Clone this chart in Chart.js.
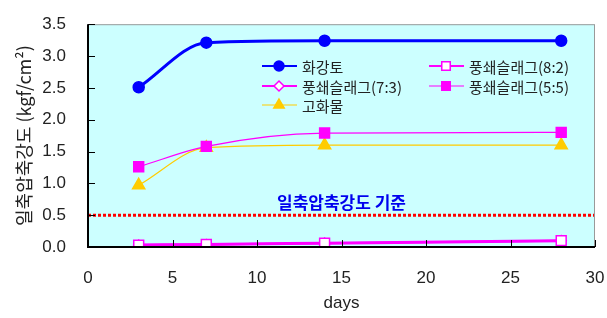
<!DOCTYPE html>
<html>
<head>
<meta charset="utf-8">
<script src="https://cdn.jsdelivr.net/npm/chart.js@4"></script>
<style>
  html, body { margin: 0; padding: 0; background: #fff; }
  #wrap { width: 607px; height: 318px; position: relative; }
</style>
</head>
<body>
<div id="wrap"><canvas id="chart"></canvas></div>
<script>
// Data
const days = [3, 7, 14, 28];
const granite = [2.51, 3.21, 3.24, 3.24];      // 화강토
const slag82 = [0.03, 0.04, 0.06, 0.10];       // 풍쇄슬래그(8:2)
const slag73 = [0.03, 0.04, 0.06, 0.10];       // 풍쇄슬래그(7:3)
const slag55 = [1.26, 1.58, 1.79, 1.80];       // 풍쇄슬래그(5:5)
const hardener = [0.97, 1.56, 1.60, 1.60];     // 고화물
const standardLine = [0.5, 0.5];               // 일축압축강도 기준
const standardX = [0, 30];
const xTicks = [0, 5, 10, 15, 20, 25, 30];
const yTicks = [0, 0.5, 1.0, 1.5, 2.0, 2.5, 3.0, 3.5];

const KR = '"Noto Sans CJK KR", "Noto Sans", sans-serif';
const NUM = 'Arial, "Liberation Sans", sans-serif';

function pts(ys, xs) {
    xs = xs || days;
    return ys.map((y, i) => ({ x: xs[i], y: y }));
}

const series = [
    { label: '화강토', data: granite, color: '#0000ff', width: 3, style: 'circle', radius: 5.5, legendR: 5, fill: '#0000ff', col: 0, row: 0 },
    { label: '풍쇄슬래그(8:2)', data: slag82, color: '#ff00ff', width: 3, style: 'rect', radius: 7, legendR: 6, fill: '#ffffff', col: 1, row: 0 },
    { label: '풍쇄슬래그(7:3)', data: slag73, color: '#ff00ff', width: 2, style: 'rectRot', radius: 5, legendR: 5, fill: '#ffffff', col: 0, row: 1 },
    { label: '풍쇄슬래그(5:5)', data: slag55, color: '#ff00ff', width: 1.2, style: 'rect', radius: 7, legendR: 6, fill: '#ff00ff', col: 1, row: 1 },
    { label: '고화물', data: hardener, color: '#ffcc00', width: 1.2, style: 'triangle', radius: 7, legendR: 6, fill: '#ffcc00', col: 0, row: 2 }
];

const datasets = series.map(s => ({
    label: s.label,
    data: pts(s.data),
    borderColor: s.color,
    borderWidth: s.width,
    backgroundColor: s.fill,
    pointStyle: s.style,
    pointRadius: s.radius,
    pointBorderColor: s.color,
    pointBackgroundColor: s.fill,
    pointBorderWidth: 1.5,
    cubicInterpolationMode: 'monotone'
}));

datasets.unshift({
    label: '기준',
    data: pts(standardLine, standardX),
    borderColor: '#ff0000',
    borderWidth: 3,
    borderDash: [3, 2],
    borderCapStyle: 'butt',
    pointRadius: 0,
    tension: 0
});

// background, frame, inward ticks, legend and the standard label
const decorPlugin = {
    id: 'decor',
    beforeDraw(chart) {
        const { ctx, chartArea: a } = chart;
        ctx.save();
        ctx.fillStyle = '#ccffff';
        ctx.fillRect(a.left, a.top, a.right - a.left, a.bottom - a.top);
        ctx.restore();
    },
    afterDatasetsDraw(chart) {
        const { ctx, chartArea: a, scales } = chart;
        ctx.save();
        // frame
        ctx.strokeStyle = '#999999';
        ctx.lineWidth = 1;
        ctx.strokeRect(a.left + 0.5, a.top + 0.5, a.right - a.left - 1, a.bottom - a.top);
        ctx.strokeStyle = '#000000';
        ctx.lineWidth = 2;
        ctx.beginPath();
        ctx.moveTo(a.left, a.top);
        ctx.lineTo(a.left, a.bottom);
        ctx.lineTo(a.right, a.bottom);
        ctx.stroke();
        // inward ticks
        ctx.lineWidth = 1;
        yTicks.forEach(v => {
            const y = Math.round(scales.y.getPixelForValue(v)) + 0.5;
            ctx.beginPath();
            ctx.moveTo(a.left, y);
            ctx.lineTo(a.left + 7, y);
            ctx.stroke();
        });
        xTicks.forEach(v => {
            const x = Math.round(scales.x.getPixelForValue(v)) + 0.5;
            ctx.beginPath();
            ctx.moveTo(x, a.bottom);
            ctx.lineTo(x, a.bottom - 7);
            ctx.stroke();
        });

        // standard label
        ctx.fillStyle = '#0000ee';
        ctx.font = 'bold 17px ' + KR;
        ctx.textAlign = 'center';
        ctx.textBaseline = 'middle';
        ctx.fillText('일축압축강도 기준', scales.x.getPixelForValue(15.0), scales.y.getPixelForValue(0.7));

        // legend
        const colX = [262, 429];
        const rowY = [66, 86, 105];
        ctx.font = '15px ' + KR;
        ctx.textAlign = 'left';
        series.forEach(s => {
            const x0 = colX[s.col], y = rowY[s.row];
            ctx.strokeStyle = s.color;
            ctx.lineWidth = Math.min(s.width, 2);
            ctx.beginPath();
            ctx.moveTo(x0, y);
            ctx.lineTo(x0 + 35, y);
            ctx.stroke();
            ctx.fillStyle = s.fill;
            ctx.strokeStyle = s.color;
            ctx.lineWidth = 1.5;
            Chart.helpers.drawPoint(ctx, { pointStyle: s.style, radius: s.legendR, borderWidth: 1.5 }, x0 + 17, y);
            ctx.fillStyle = '#222222';
            ctx.fillText(s.label, x0 + 40, y + 1);
        });
        ctx.restore();
    }
};

new Chart(document.getElementById('chart'), {
    type: 'line',
    data: { datasets: datasets },
    plugins: [decorPlugin],
    options: {
        responsive: true,
        maintainAspectRatio: false,
        animation: false,
        layout: { padding: { top: 15, right: 0, left: 9, bottom: 0 } },
        plugins: {
            legend: { display: false },
            tooltip: { enabled: false }
        },
        scales: {
            x: {
                type: 'linear',
                min: 0,
                max: 30,
                afterFit: s => { s.height = 71; s.paddingRight = 12; s.paddingLeft = 0; },
                afterBuildTicks: s => { s.ticks = xTicks.map(v => ({ value: v })); },
                grid: { display: false },
                border: { display: false },
                ticks: { color: '#222', font: { family: NUM, size: 17 }, padding: 13, maxRotation: 0 },
                title: { display: true, text: 'days', color: '#222', font: { family: NUM, size: 17 }, padding: { top: 9 } }
            },
            y: {
                min: 0,
                max: 3.5,
                afterFit: s => { s.width = 79; },
                afterBuildTicks: s => { s.ticks = yTicks.map(v => ({ value: v })); },
                grid: { display: false },
                border: { display: false },
                ticks: {
                    color: '#222',
                    font: { family: NUM, size: 17 },
                    padding: 14,
                    callback: v => v.toFixed(1)
                },
                title: { display: true, text: '일축압축강도 (kgf/cm²)', color: '#222', font: { family: KR, size: 18 }, padding: { bottom: 2 } }
            }
        }
    }
});
</script>
</body>
</html>
